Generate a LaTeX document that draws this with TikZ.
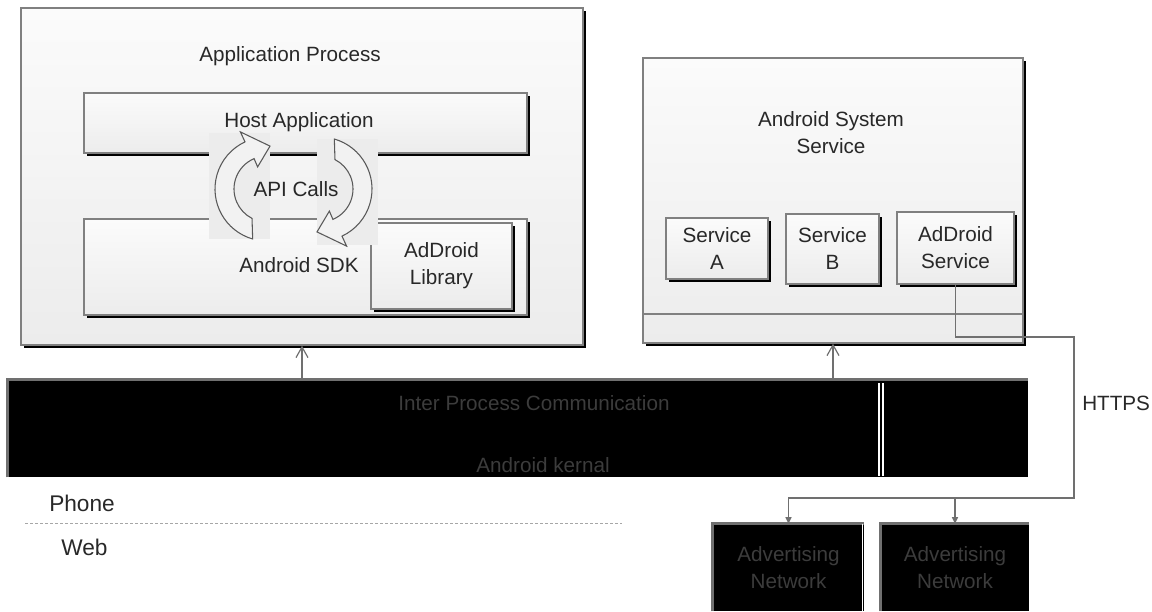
\documentclass[tikz,border=0pt]{standalone}
\usepackage{fontspec}
\setmainfont{Liberation Sans}
\usepackage{xcolor}
\usepackage{tikz}
\usetikzlibrary{arrows.meta, fit, shadows}

\definecolor{boxline}{RGB}{128,128,128}
\definecolor{boxtop}{RGB}{251,251,251}
\definecolor{boxbottom}{RGB}{236,236,236}
\definecolor{patchgray}{RGB}{236,236,236}
\definecolor{textgray}{RGB}{40,40,40}
\definecolor{darktext}{RGB}{60,60,60}
\definecolor{linkgray}{RGB}{112,112,112}

\tikzset{
  panel/.style={draw=boxline, line width=1.1pt, top color=boxtop, bottom color=boxbottom,
    inner sep=0pt,
    drop shadow={shadow xshift=2.3pt, shadow yshift=-2.3pt, fill=black, opacity=1}},
  blackbox/.style={fill=black, inner sep=0pt},
  edgegray/.style={draw=linkgray, line width=2pt},
  txt/.style={text=textgray, align=center, inner sep=0pt},
  link/.style={draw=linkgray, line width=1.1pt},
  ipc/.style={draw=linkgray, line width=0.9pt, -{Straight Barb[length=8pt,width=9pt]}},
  apicall/.pic={
    \fill[patchgray] (-58,-56) rectangle (3,50);
    \draw[draw=black!65, fill=white!95!black, line width=0.8pt]
      (106:52) arc[start angle=106, end angle=245, radius=52]
      -- (245:63) -- (274:43) -- (247:24) -- (247:33)
      arc[start angle=247, end angle=117, radius=33] -- cycle;
  }
}

\begin{document}
\begin{tikzpicture}[x=0.75pt, y=-0.75pt, font=\fontsize{15.5}{20.25}\selectfont]
    \useasboundingbox (0,0) rectangle (1152,611);

    % application process
    \node[panel, fit={(21,8) (583,345)}] (app) {};
    \node[panel, fit={(84,93) (527,153)}] (host) {};
    \node[panel, fit={(84,219) (527,315)}] (sdk) {};
    \node[panel, fit={(371,223) (512,309)}] (lib) {};
    \node[txt] (libtxt) at (lib) {AdDroid\\Library};
    \pic at (267,189) {apicall};
    \pic[rotate=180] at (320,189) {apicall};
    \node[txt] (apptitle) at (290,56) {Application Process};
    \node[txt] (hosttxt) at (299,122) {Host Application};
    \node[txt] (apitxt) at (296,189) {API Calls};
    \node[txt] (sdktxt) at (299,265) {Android SDK};

    % system service
    \node[panel, fit={(643,58) (1023,343)}] (sys) {};
    \draw[draw=boxline, line width=1.1pt] (sys.west |- 0,314) -- (sys.east |- 0,314);
    \node[txt] (systitle) at (831,132.5) {Android System\\Service};
    \node[panel, fit={(666,218) (768,279)}] (svca) {};
    \node[panel, fit={(786,214) (879,284)}] (svcb) {};
    \node[panel, fit={(897,212) (1014,284)}] (adsvc) {};
    \node[txt] (svcatxt) at (svca) {Service\\A};
    \node[txt] (svcbtxt) at (svcb) {Service\\B};
    \node[txt] (adsvctxt) at (adsvc) {AdDroid\\Service};

    % kernel
    \node[blackbox, fit={(8,380) (1028,477)}] (kernel) {};
    \draw[edgegray] (kernel.south west) |- (kernel.north east);
    \foreach \x in {879,883}
        \draw[white, line width=0.8pt] (\x,383) -- (\x,476);
    \node[txt, text=darktext] (ipctxt) at (534,403) {Inter Process Communication};
    \node[txt, text=darktext] (kerneltxt) at (543,465) {Android kernal};
    \draw[ipc] (kernel.north -| app.south) -- (app.south);
    \draw[ipc] (kernel.north -| sys.south) -- (sys.south);

    % advertising networks
    \node[blackbox, fit={(713,524) (864,611)}] (net1) {};
    \node[blackbox, fit={(881,524) (1029,611)}] (net2) {};
    \draw[edgegray] (net1.south west) |- (net1.north east);
    \draw[edgegray] (net2.south west) |- (net2.north east);
    \draw[white, line width=0.8pt] ([xshift=-1.5pt]net1.north east) -- ([xshift=-1.5pt]net1.south east);
    \node[txt, text=darktext] (net1txt) at (net1) {Advertising\\Network};
    \node[txt, text=darktext] (net2txt) at (net2) {Advertising\\Network};

    \coordinate (turnA) at (1074,337);
    \coordinate (turnB) at (1074,498);
    \coordinate (split) at (turnB -| net2.north);
    \draw[link, -{Triangle[length=5pt,width=4.5pt]}] (adsvc.south) |- (turnA) -- (turnB) -| (net1.north);
    \draw[link, -{Triangle[length=5pt,width=4.5pt]}] (split) -- (net2.north);
    \node[txt, anchor=west] (https) at (1082,403) {HTTPS};

    % phone / web
    \node[txt, anchor=west, font=\fontsize{17}{20}\selectfont] (phone) at (49,503) {Phone};
    \draw[gray!70, dash pattern=on 2.25pt off 1.5pt] (25,523) -- (622,523);
    \node[txt, anchor=west, font=\fontsize{17}{20}\selectfont] (web) at (61,547) {Web};
\end{tikzpicture}
\end{document}
